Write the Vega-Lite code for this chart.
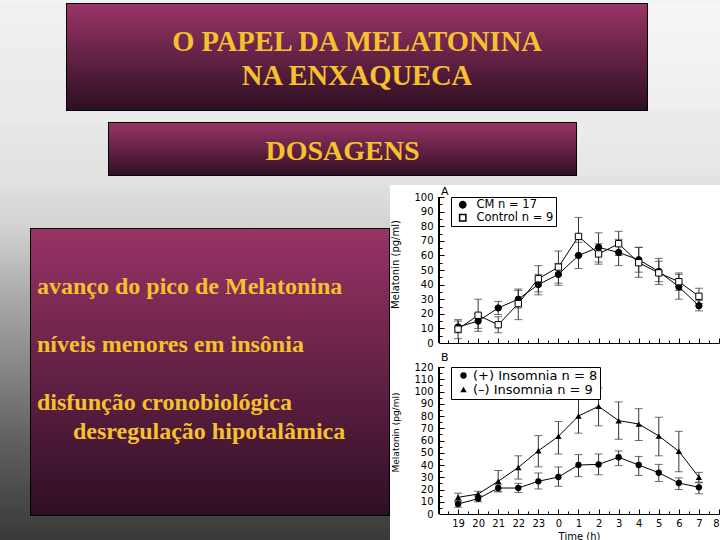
{
  "$schema": "https://vega.github.io/schema/vega-lite/v6.json",
  "padding": 0,
  "background": "white",
  "spacing": 0,
  "resolve": {"scale": {"shape": "independent", "fill": "independent"}, "legend": {"shape": "independent", "fill": "independent"}},
  "datasets": {
    "blank": [{}],
    "title": [{"text": "O PAPEL DA MELATONINA\nNA ENXAQUECA"}],
    "subtitle": [{"text": "DOSAGENS"}],
    "bullets": [
      {"line": 1, "level": 0, "text": "avanço do pico de Melatonina"},
      {"line": 3, "level": 0, "text": "níveis menores em insônia"},
      {"line": 5, "level": 0, "text": "disfunção cronobiológica"},
      {"line": 6, "level": 1, "text": "desregulação hipotalâmica"}
    ],
    "a": [
      {"group": "CM n = 17", "hour": 19, "mean": 11, "lo": 7, "hi": 15},
      {"group": "CM n = 17", "hour": 20, "mean": 15, "lo": 10, "hi": 20},
      {"group": "CM n = 17", "hour": 21, "mean": 24, "lo": 19.5, "hi": 28.5},
      {"group": "CM n = 17", "hour": 22, "mean": 30, "lo": 24, "hi": 36},
      {"group": "CM n = 17", "hour": 23, "mean": 40, "lo": 33, "hi": 47},
      {"group": "CM n = 17", "hour": 24, "mean": 47, "lo": 39.5, "hi": 54.5},
      {"group": "CM n = 17", "hour": 25, "mean": 60, "lo": 51, "hi": 69},
      {"group": "CM n = 17", "hour": 26, "mean": 65.5, "lo": 55.5, "hi": 75.5},
      {"group": "CM n = 17", "hour": 27, "mean": 62, "lo": 53, "hi": 71},
      {"group": "CM n = 17", "hour": 28, "mean": 57, "lo": 48.5, "hi": 65.5},
      {"group": "CM n = 17", "hour": 29, "mean": 49, "lo": 42, "hi": 56},
      {"group": "CM n = 17", "hour": 30, "mean": 38.5, "lo": 30, "hi": 47},
      {"group": "CM n = 17", "hour": 31, "mean": 25.5, "lo": 22, "hi": 29},
      {"group": "Control n = 9", "hour": 19, "mean": 9.5, "lo": 3, "hi": 16},
      {"group": "Control n = 9", "hour": 20, "mean": 19, "lo": 8, "hi": 30},
      {"group": "Control n = 9", "hour": 21, "mean": 12.5, "lo": 7, "hi": 18},
      {"group": "Control n = 9", "hour": 22, "mean": 27, "lo": 16, "hi": 37},
      {"group": "Control n = 9", "hour": 23, "mean": 44, "lo": 35, "hi": 53},
      {"group": "Control n = 9", "hour": 24, "mean": 52, "lo": 41, "hi": 63},
      {"group": "Control n = 9", "hour": 25, "mean": 73, "lo": 60, "hi": 86},
      {"group": "Control n = 9", "hour": 26, "mean": 61, "lo": 54, "hi": 68},
      {"group": "Control n = 9", "hour": 27, "mean": 68, "lo": 60, "hi": 76.5},
      {"group": "Control n = 9", "hour": 28, "mean": 55, "lo": 45, "hi": 65.5},
      {"group": "Control n = 9", "hour": 29, "mean": 48, "lo": 40, "hi": 58},
      {"group": "Control n = 9", "hour": 30, "mean": 42, "lo": 36, "hi": 48},
      {"group": "Control n = 9", "hour": 31, "mean": 32, "lo": 27, "hi": 37.5}
    ],
    "b": [
      {"group": "(+) Insomnia n = 8", "hour": 19, "mean": 8.2, "lo": 5.5, "hi": 11},
      {"group": "(+) Insomnia n = 8", "hour": 20, "mean": 12.5, "lo": 10, "hi": 15},
      {"group": "(+) Insomnia n = 8", "hour": 21, "mean": 21.2, "lo": 18.5, "hi": 24},
      {"group": "(+) Insomnia n = 8", "hour": 22, "mean": 21.2, "lo": 17.5, "hi": 25},
      {"group": "(+) Insomnia n = 8", "hour": 23, "mean": 26.7, "lo": 20.4, "hi": 33.5},
      {"group": "(+) Insomnia n = 8", "hour": 24, "mean": 30.2, "lo": 22.6, "hi": 38.4},
      {"group": "(+) Insomnia n = 8", "hour": 25, "mean": 40, "lo": 30.5, "hi": 48.5},
      {"group": "(+) Insomnia n = 8", "hour": 26, "mean": 40.5, "lo": 32, "hi": 49},
      {"group": "(+) Insomnia n = 8", "hour": 27, "mean": 46.3, "lo": 39.5, "hi": 51.5},
      {"group": "(+) Insomnia n = 8", "hour": 28, "mean": 40, "lo": 31.5, "hi": 47},
      {"group": "(+) Insomnia n = 8", "hour": 29, "mean": 33.7, "lo": 26.5, "hi": 40.5},
      {"group": "(+) Insomnia n = 8", "hour": 30, "mean": 25.3, "lo": 20, "hi": 29.5},
      {"group": "(+) Insomnia n = 8", "hour": 31, "mean": 21.8, "lo": 16.5, "hi": 25.5},
      {"group": "(–) Insomnia n = 9", "hour": 19, "mean": 13.6, "lo": 10, "hi": 17},
      {"group": "(–) Insomnia n = 9", "hour": 20, "mean": 16.3, "lo": 14, "hi": 18.5},
      {"group": "(–) Insomnia n = 9", "hour": 21, "mean": 26.7, "lo": 18, "hi": 35.5},
      {"group": "(–) Insomnia n = 9", "hour": 22, "mean": 38, "lo": 28.5, "hi": 47.5},
      {"group": "(–) Insomnia n = 9", "hour": 23, "mean": 51.6, "lo": 38.5, "hi": 64},
      {"group": "(–) Insomnia n = 9", "hour": 24, "mean": 63.4, "lo": 49, "hi": 75.5},
      {"group": "(–) Insomnia n = 9", "hour": 25, "mean": 80, "lo": 66, "hi": 93.5},
      {"group": "(–) Insomnia n = 9", "hour": 26, "mean": 87.9, "lo": 72, "hi": 103},
      {"group": "(–) Insomnia n = 9", "hour": 27, "mean": 76.2, "lo": 61, "hi": 91.5},
      {"group": "(–) Insomnia n = 9", "hour": 28, "mean": 73.5, "lo": 60, "hi": 86},
      {"group": "(–) Insomnia n = 9", "hour": 29, "mean": 63.7, "lo": 47.5, "hi": 79},
      {"group": "(–) Insomnia n = 9", "hour": 30, "mean": 51.2, "lo": 34.5, "hi": 67.5},
      {"group": "(–) Insomnia n = 9", "hour": 31, "mean": 30, "lo": 26, "hi": 34}
    ],
    "panelA": [{"panel": "A", "hour": 18.15, "level": 107.8}],
    "panelB": [{"panel": "B", "hour": 18.15, "level": 132.2}]
  },
  "vconcat": [
    {"width": 720, "height": 3, "data": {"name": "blank"}, "mark": {"type": "rect", "fill": "#f3f3f3"}, "encoding": {}},
    {
      "spacing": 0,
      "hconcat": [
        {"width": 66, "height": 108, "data": {"name": "blank"}, "mark": {"type": "rect", "fill": {"gradient": "linear", "x1": 0, "y1": 0, "x2": 0, "y2": 1, "stops": [{"offset": 0, "color": "#f1f1f1"}, {"offset": 1, "color": "#e9e9e9"}]}}, "encoding": {}},
        {
          "width": 582,
          "height": 108,
          "data": {"name": "title"},
          "layer": [
            {"mark": {"type": "rect", "clip": true, "stroke": "black", "strokeWidth": 2, "fill": {"gradient": "linear", "x1": 0, "y1": 0, "x2": 0, "y2": 1, "stops": [{"offset": 0, "color": "#9b3568"}, {"offset": 1, "color": "#2b0e21"}]}}, "encoding": {}},
            {"mark": {"type": "text", "font": "Liberation Serif", "fontWeight": "bold", "fontSize": 28.5, "fill": "#f5c12e", "lineBreak": "\n", "lineHeight": 34, "baseline": "middle", "dy": -15}, "encoding": {"text": {"field": "text"}}}
          ]
        },
        {"width": 72, "height": 108, "data": {"name": "blank"}, "mark": {"type": "rect", "fill": {"gradient": "linear", "x1": 0, "y1": 0, "x2": 0, "y2": 1, "stops": [{"offset": 0, "color": "#f6f6f6"}, {"offset": 1, "color": "#eeeeee"}]}}, "encoding": {}}
      ]
    },
    {"width": 720, "height": 11, "data": {"name": "blank"}, "mark": {"type": "rect", "fill": "#eaeaea"}, "encoding": {}},
    {
      "spacing": 0,
      "hconcat": [
        {"width": 108, "height": 54, "data": {"name": "blank"}, "mark": {"type": "rect", "fill": {"gradient": "linear", "x1": 0, "y1": 0, "x2": 0, "y2": 1, "stops": [{"offset": 0, "color": "#e8e8e8"}, {"offset": 1, "color": "#e1e1e1"}]}}, "encoding": {}},
        {
          "width": 469,
          "height": 54,
          "data": {"name": "subtitle"},
          "layer": [
            {"mark": {"type": "rect", "clip": true, "stroke": "black", "strokeWidth": 2, "fill": {"gradient": "linear", "x1": 0, "y1": 0, "x2": 0, "y2": 1, "stops": [{"offset": 0, "color": "#9b3568"}, {"offset": 1, "color": "#2e0f23"}]}}, "encoding": {}},
            {"mark": {"type": "text", "font": "Liberation Serif", "fontWeight": "bold", "fontSize": 28, "fill": "#f5c12e", "baseline": "middle", "dy": 3}, "encoding": {"text": {"field": "text"}}}
          ]
        },
        {"width": 143, "height": 54, "data": {"name": "blank"}, "mark": {"type": "rect", "fill": {"gradient": "linear", "x1": 0, "y1": 0, "x2": 0, "y2": 1, "stops": [{"offset": 0, "color": "#ececec"}, {"offset": 1, "color": "#e6e6e6"}]}}, "encoding": {}}
      ]
    },
    {"width": 720, "height": 9, "data": {"name": "blank"}, "mark": {"type": "rect", "fill": "#e1e1e1"}, "encoding": {}},
    {
      "spacing": 0,
      "resolve": {"scale": {"shape": "independent", "fill": "independent"}, "legend": {"shape": "independent", "fill": "independent"}},
      "hconcat": [
        {
          "spacing": 0,
          "vconcat": [
            {"width": 390, "height": 43, "data": {"name": "blank"}, "mark": {"type": "rect", "fill": {"gradient": "linear", "x1": 0, "y1": 0, "x2": 0, "y2": 1, "stops": [{"offset": 0, "color": "#e0e0e0"}, {"offset": 1, "color": "#d2d2d2"}]}}, "encoding": {}},
            {
              "spacing": 0,
              "hconcat": [
                {"width": 30, "height": 288, "data": {"name": "blank"}, "mark": {"type": "rect", "fill": {"gradient": "linear", "x1": 0, "y1": 0, "x2": 0, "y2": 1, "stops": [{"offset": 0, "color": "#d1d1d1"}, {"offset": 0.25, "color": "#a8a8a8"}, {"offset": 0.53, "color": "#808080"}, {"offset": 0.77, "color": "#5c5c5c"}, {"offset": 1, "color": "#424242"}]}}, "encoding": {}},
                {
                  "width": 360,
                  "height": 288,
                  "data": {"name": "bullets"},
                  "layer": [
                    {"mark": {"type": "rect", "clip": true, "stroke": "black", "strokeWidth": 2, "fill": {"gradient": "linear", "x1": 0, "y1": 0, "x2": 0, "y2": 1, "stops": [{"offset": 0, "color": "#993366"}, {"offset": 1, "color": "#2e0f24"}]}}, "encoding": {}},
                    {
                      "mark": {"type": "text", "font": "Liberation Serif", "fontWeight": "bold", "fontSize": 24, "fill": "#f5c12e", "align": "left", "baseline": "middle"},
                      "encoding": {
                        "x": {"field": "level", "type": "quantitative", "scale": {"domain": [-0.194, 9.806], "nice": false, "zero": false}, "axis": null},
                        "y": {"field": "line", "type": "quantitative", "scale": {"domain": [-1.034, 8.897], "reverse": true, "nice": false, "zero": false}, "axis": null},
                        "text": {"field": "text"}
                      }
                    }
                  ]
                }
              ]
            },
            {"width": 390, "height": 24, "data": {"name": "blank"}, "mark": {"type": "rect", "fill": {"gradient": "linear", "x1": 0, "y1": 0, "x2": 0, "y2": 1, "stops": [{"offset": 0, "color": "#434343"}, {"offset": 1, "color": "#3a3a3a"}]}}, "encoding": {}}
          ]
        },
        {
          "spacing": 2,
          "resolve": {"scale": {"shape": "independent", "fill": "independent"}, "legend": {"shape": "independent", "fill": "independent"}},
          "vconcat": [
            {
              "width": 280,
              "height": 158,
              "data": {"name": "a"},
              "layer": [
                {
                  "mark": {"type": "line", "color": "black", "strokeWidth": 1},
                  "encoding": {
                    "x": {"field": "hour", "type": "quantitative", "scale": {"domain": [18.05, 32], "nice": false, "zero": false},
                      "axis": {"title": null, "labels": false, "values": [18.5, 19, 19.5, 20, 20.5, 21, 21.5, 22, 22.5, 23, 23.5, 24, 24.5, 25, 25.5, 26, 26.5, 27, 27.5, 28, 28.5, 29, 29.5, 30, 30.5, 31, 31.5, 32], "tickSize": {"condition": {"test": "datum.value % 1 !== 0", "value": -3}, "value": -5}}},
                    "y": {"field": "mean", "type": "quantitative", "scale": {"domain": [0, 108.22], "nice": false},
                      "axis": {"title": "Melatonin (pg/ml)", "domain": false, "labelOverlap": false, "values": [0, 5, 10, 15, 20, 25, 30, 35, 40, 45, 50, 55, 60, 65, 70, 75, 80, 85, 90, 95, 100], "labelExpr": "datum.value % 10 === 0 ? datum.label : ''", "tickSize": {"condition": {"test": "datum.value % 10 !== 0", "value": -3}, "value": -5}, "labelPadding": 11, "titlePadding": 13}},
                    "detail": {"field": "group"}
                  }
                },
                {
                  "mark": {"type": "errorbar", "ticks": {"size": 8, "color": "#333"}, "rule": {"color": "#333", "strokeWidth": 1}},
                  "encoding": {
                    "x": {"field": "hour", "type": "quantitative", "scale": {"domain": [18.05, 32], "nice": false, "zero": false},
                      "axis": {"title": null, "labels": false, "values": [18.5, 19, 19.5, 20, 20.5, 21, 21.5, 22, 22.5, 23, 23.5, 24, 24.5, 25, 25.5, 26, 26.5, 27, 27.5, 28, 28.5, 29, 29.5, 30, 30.5, 31, 31.5, 32], "tickSize": {"condition": {"test": "datum.value % 1 !== 0", "value": -3}, "value": -5}}},
                    "y": {"field": "lo", "type": "quantitative", "scale": {"domain": [0, 108.22], "nice": false},
                      "axis": {"title": "Melatonin (pg/ml)", "domain": false, "labelOverlap": false, "values": [0, 5, 10, 15, 20, 25, 30, 35, 40, 45, 50, 55, 60, 65, 70, 75, 80, 85, 90, 95, 100], "labelExpr": "datum.value % 10 === 0 ? datum.label : ''", "tickSize": {"condition": {"test": "datum.value % 10 !== 0", "value": -3}, "value": -5}, "labelPadding": 11, "titlePadding": 13}},
                    "y2": {"field": "hi"}
                  }
                },
                {
                  "mark": {"type": "rule", "color": "black", "strokeWidth": 1},
                  "encoding": {
                    "x": {"datum": 18.05, "type": "quantitative", "scale": {"domain": [18.05, 32], "nice": false, "zero": false},
                      "axis": {"title": null, "labels": false, "values": [18.5, 19, 19.5, 20, 20.5, 21, 21.5, 22, 22.5, 23, 23.5, 24, 24.5, 25, 25.5, 26, 26.5, 27, 27.5, 28, 28.5, 29, 29.5, 30, 30.5, 31, 31.5, 32], "tickSize": {"condition": {"test": "datum.value % 1 !== 0", "value": -3}, "value": -5}}},
                    "y": {"datum": 0, "type": "quantitative", "scale": {"domain": [0, 108.22], "nice": false},
                      "axis": {"title": "Melatonin (pg/ml)", "domain": false, "labelOverlap": false, "values": [0, 5, 10, 15, 20, 25, 30, 35, 40, 45, 50, 55, 60, 65, 70, 75, 80, 85, 90, 95, 100], "labelExpr": "datum.value % 10 === 0 ? datum.label : ''", "tickSize": {"condition": {"test": "datum.value % 10 !== 0", "value": -3}, "value": -5}, "labelPadding": 11, "titlePadding": 13}},
                    "y2": {"datum": 100}
                  }
                },
                {
                  "mark": {"type": "point", "filled": true, "size": 40, "stroke": "black", "strokeWidth": 1, "opacity": 1},
                  "encoding": {
                    "x": {"field": "hour", "type": "quantitative", "scale": {"domain": [18.05, 32], "nice": false, "zero": false},
                      "axis": {"title": null, "labels": false, "values": [18.5, 19, 19.5, 20, 20.5, 21, 21.5, 22, 22.5, 23, 23.5, 24, 24.5, 25, 25.5, 26, 26.5, 27, 27.5, 28, 28.5, 29, 29.5, 30, 30.5, 31, 31.5, 32], "tickSize": {"condition": {"test": "datum.value % 1 !== 0", "value": -3}, "value": -5}}},
                    "y": {"field": "mean", "type": "quantitative", "scale": {"domain": [0, 108.22], "nice": false},
                      "axis": {"title": "Melatonin (pg/ml)", "domain": false, "labelOverlap": false, "values": [0, 5, 10, 15, 20, 25, 30, 35, 40, 45, 50, 55, 60, 65, 70, 75, 80, 85, 90, 95, 100], "labelExpr": "datum.value % 10 === 0 ? datum.label : ''", "tickSize": {"condition": {"test": "datum.value % 10 !== 0", "value": -3}, "value": -5}, "labelPadding": 11, "titlePadding": 13}},
                    "shape": {"field": "group", "type": "nominal", "scale": {"domain": ["CM n = 17", "Control n = 9"], "range": ["circle", "square"]},
                      "legend": {"title": null, "orient": "none", "legendX": 12, "legendY": 12, "strokeColor": "black", "fillColor": "white", "padding": 2, "labelFontSize": 11.5, "labelFont": "DejaVu Sans", "labelColor": "black", "symbolSize": 40, "symbolOffset": 4, "rowPadding": 0, "labelOffset": 8,
                        "encode": {"symbols": {"update": {"stroke": {"value": "black"}, "strokeWidth": {"value": 1}}}}}},
                    "fill": {"field": "group", "type": "nominal", "scale": {"domain": ["CM n = 17", "Control n = 9"], "range": ["black", "white"]},
                      "legend": {"title": null, "orient": "none", "legendX": 12, "legendY": 12, "strokeColor": "black", "fillColor": "white", "padding": 2, "labelFontSize": 11.5, "labelFont": "DejaVu Sans", "labelColor": "black", "symbolSize": 40, "symbolOffset": 4, "rowPadding": 0, "labelOffset": 8,
                        "encode": {"symbols": {"update": {"stroke": {"value": "black"}, "strokeWidth": {"value": 1}}}}}}
                  }
                },
                {
                  "data": {"name": "panelA"},
                  "mark": {"type": "text", "font": "DejaVu Sans", "fontSize": 11, "fill": "black", "align": "left", "baseline": "top"},
                  "encoding": {
                    "x": {"field": "hour", "type": "quantitative", "scale": {"domain": [18.05, 32], "nice": false, "zero": false},
                      "axis": {"title": null, "labels": false, "values": [18.5, 19, 19.5, 20, 20.5, 21, 21.5, 22, 22.5, 23, 23.5, 24, 24.5, 25, 25.5, 26, 26.5, 27, 27.5, 28, 28.5, 29, 29.5, 30, 30.5, 31, 31.5, 32], "tickSize": {"condition": {"test": "datum.value % 1 !== 0", "value": -3}, "value": -5}}},
                    "y": {"field": "level", "type": "quantitative", "scale": {"domain": [0, 108.22], "nice": false},
                      "axis": {"title": "Melatonin (pg/ml)", "domain": false, "labelOverlap": false, "values": [0, 5, 10, 15, 20, 25, 30, 35, 40, 45, 50, 55, 60, 65, 70, 75, 80, 85, 90, 95, 100], "labelExpr": "datum.value % 10 === 0 ? datum.label : ''", "tickSize": {"condition": {"test": "datum.value % 10 !== 0", "value": -3}, "value": -5}, "labelPadding": 11, "titlePadding": 13}},
                    "text": {"field": "panel"}
                  }
                }
              ]
            },
            {
              "width": 280,
              "height": 164,
              "data": {"name": "b"},
              "layer": [
                {
                  "mark": {"type": "line", "color": "black", "strokeWidth": 1},
                  "encoding": {
                    "x": {"field": "hour", "type": "quantitative", "scale": {"domain": [18.05, 32], "nice": false, "zero": false},
                      "axis": {"title": "Time (h)", "titlePadding": 1, "labelFlush": true, "labelOverlap": false, "labelPadding": 9, "values": [18.5, 19, 19.5, 20, 20.5, 21, 21.5, 22, 22.5, 23, 23.5, 24, 24.5, 25, 25.5, 26, 26.5, 27, 27.5, 28, 28.5, 29, 29.5, 30, 30.5, 31, 31.5, 32], "labelExpr": "datum.value % 1 === 0 ? '' + (datum.value % 24) : ''", "tickSize": {"condition": {"test": "datum.value % 1 !== 0", "value": -3}, "value": -5}}},
                    "y": {"field": "mean", "type": "quantitative", "scale": {"domain": [0, 133.88], "nice": false},
                      "axis": {"title": "Melatonin (pg/ml)", "domain": false, "labelOverlap": false, "titleFontSize": 9, "values": [0, 5, 10, 15, 20, 25, 30, 35, 40, 45, 50, 55, 60, 65, 70, 75, 80, 85, 90, 95, 100, 105, 110, 115, 120], "labelExpr": "datum.value % 10 === 0 ? datum.label : ''", "tickSize": {"condition": {"test": "datum.value % 10 !== 0", "value": -3}, "value": -5}, "labelPadding": 11, "titlePadding": 13}},
                    "detail": {"field": "group"}
                  }
                },
                {
                  "mark": {"type": "errorbar", "ticks": {"size": 8, "color": "#333"}, "rule": {"color": "#333", "strokeWidth": 1}},
                  "encoding": {
                    "x": {"field": "hour", "type": "quantitative", "scale": {"domain": [18.05, 32], "nice": false, "zero": false},
                      "axis": {"title": "Time (h)", "titlePadding": 1, "labelFlush": true, "labelOverlap": false, "labelPadding": 9, "values": [18.5, 19, 19.5, 20, 20.5, 21, 21.5, 22, 22.5, 23, 23.5, 24, 24.5, 25, 25.5, 26, 26.5, 27, 27.5, 28, 28.5, 29, 29.5, 30, 30.5, 31, 31.5, 32], "labelExpr": "datum.value % 1 === 0 ? '' + (datum.value % 24) : ''", "tickSize": {"condition": {"test": "datum.value % 1 !== 0", "value": -3}, "value": -5}}},
                    "y": {"field": "lo", "type": "quantitative", "scale": {"domain": [0, 133.88], "nice": false},
                      "axis": {"title": "Melatonin (pg/ml)", "domain": false, "labelOverlap": false, "titleFontSize": 9, "values": [0, 5, 10, 15, 20, 25, 30, 35, 40, 45, 50, 55, 60, 65, 70, 75, 80, 85, 90, 95, 100, 105, 110, 115, 120], "labelExpr": "datum.value % 10 === 0 ? datum.label : ''", "tickSize": {"condition": {"test": "datum.value % 10 !== 0", "value": -3}, "value": -5}, "labelPadding": 11, "titlePadding": 13}},
                    "y2": {"field": "hi"}
                  }
                },
                {
                  "mark": {"type": "rule", "color": "black", "strokeWidth": 1},
                  "encoding": {
                    "x": {"datum": 18.05, "type": "quantitative", "scale": {"domain": [18.05, 32], "nice": false, "zero": false},
                      "axis": {"title": "Time (h)", "titlePadding": 1, "labelFlush": true, "labelOverlap": false, "labelPadding": 9, "values": [18.5, 19, 19.5, 20, 20.5, 21, 21.5, 22, 22.5, 23, 23.5, 24, 24.5, 25, 25.5, 26, 26.5, 27, 27.5, 28, 28.5, 29, 29.5, 30, 30.5, 31, 31.5, 32], "labelExpr": "datum.value % 1 === 0 ? '' + (datum.value % 24) : ''", "tickSize": {"condition": {"test": "datum.value % 1 !== 0", "value": -3}, "value": -5}}},
                    "y": {"datum": 0, "type": "quantitative", "scale": {"domain": [0, 133.88], "nice": false},
                      "axis": {"title": "Melatonin (pg/ml)", "domain": false, "labelOverlap": false, "titleFontSize": 9, "values": [0, 5, 10, 15, 20, 25, 30, 35, 40, 45, 50, 55, 60, 65, 70, 75, 80, 85, 90, 95, 100, 105, 110, 115, 120], "labelExpr": "datum.value % 10 === 0 ? datum.label : ''", "tickSize": {"condition": {"test": "datum.value % 10 !== 0", "value": -3}, "value": -5}, "labelPadding": 11, "titlePadding": 13}},
                    "y2": {"datum": 120}
                  }
                },
                {
                  "mark": {"type": "point", "filled": true, "size": 40, "color": "black", "opacity": 1},
                  "encoding": {
                    "x": {"field": "hour", "type": "quantitative", "scale": {"domain": [18.05, 32], "nice": false, "zero": false},
                      "axis": {"title": "Time (h)", "titlePadding": 1, "labelFlush": true, "labelOverlap": false, "labelPadding": 9, "values": [18.5, 19, 19.5, 20, 20.5, 21, 21.5, 22, 22.5, 23, 23.5, 24, 24.5, 25, 25.5, 26, 26.5, 27, 27.5, 28, 28.5, 29, 29.5, 30, 30.5, 31, 31.5, 32], "labelExpr": "datum.value % 1 === 0 ? '' + (datum.value % 24) : ''", "tickSize": {"condition": {"test": "datum.value % 1 !== 0", "value": -3}, "value": -5}}},
                    "y": {"field": "mean", "type": "quantitative", "scale": {"domain": [0, 133.88], "nice": false},
                      "axis": {"title": "Melatonin (pg/ml)", "domain": false, "labelOverlap": false, "titleFontSize": 9, "values": [0, 5, 10, 15, 20, 25, 30, 35, 40, 45, 50, 55, 60, 65, 70, 75, 80, 85, 90, 95, 100, 105, 110, 115, 120], "labelExpr": "datum.value % 10 === 0 ? datum.label : ''", "tickSize": {"condition": {"test": "datum.value % 10 !== 0", "value": -3}, "value": -5}, "labelPadding": 11, "titlePadding": 13}},
                    "shape": {"field": "group", "type": "nominal", "scale": {"domain": ["(+) Insomnia n = 8", "(–) Insomnia n = 9"], "range": ["circle", "triangle-up"]},
                      "legend": {"title": null, "orient": "none", "legendX": 12, "legendY": 17, "strokeColor": "black", "fillColor": "white", "padding": 2, "labelFontSize": 13, "labelFont": "DejaVu Sans", "labelColor": "black", "symbolSize": 40, "symbolOffset": 4, "symbolFillColor": "black", "symbolStrokeColor": "black", "rowPadding": 0, "labelOffset": 3}}
                  }
                },
                {
                  "data": {"name": "panelB"},
                  "mark": {"type": "text", "font": "DejaVu Sans", "fontSize": 11, "fill": "black", "align": "left", "baseline": "top"},
                  "encoding": {
                    "x": {"field": "hour", "type": "quantitative", "scale": {"domain": [18.05, 32], "nice": false, "zero": false},
                      "axis": {"title": "Time (h)", "titlePadding": 1, "labelFlush": true, "labelOverlap": false, "labelPadding": 9, "values": [18.5, 19, 19.5, 20, 20.5, 21, 21.5, 22, 22.5, 23, 23.5, 24, 24.5, 25, 25.5, 26, 26.5, 27, 27.5, 28, 28.5, 29, 29.5, 30, 30.5, 31, 31.5, 32], "labelExpr": "datum.value % 1 === 0 ? '' + (datum.value % 24) : ''", "tickSize": {"condition": {"test": "datum.value % 1 !== 0", "value": -3}, "value": -5}}},
                    "y": {"field": "level", "type": "quantitative", "scale": {"domain": [0, 133.88], "nice": false},
                      "axis": {"title": "Melatonin (pg/ml)", "domain": false, "labelOverlap": false, "titleFontSize": 9, "values": [0, 5, 10, 15, 20, 25, 30, 35, 40, 45, 50, 55, 60, 65, 70, 75, 80, 85, 90, 95, 100, 105, 110, 115, 120], "labelExpr": "datum.value % 10 === 0 ? datum.label : ''", "tickSize": {"condition": {"test": "datum.value % 10 !== 0", "value": -3}, "value": -5}, "labelPadding": 11, "titlePadding": 13}},
                    "text": {"field": "panel"}
                  }
                }
              ]
            }
          ]
        }
      ]
    }
  ],
  "config": {
    "view": {"stroke": null},
    "axis": {"grid": false, "domainColor": "black", "tickColor": "black", "labelColor": "black", "titleColor": "black", "labelFont": "DejaVu Sans", "titleFont": "DejaVu Sans", "titleFontWeight": "normal", "labelFontSize": 10, "titleFontSize": 10}
  }
}
